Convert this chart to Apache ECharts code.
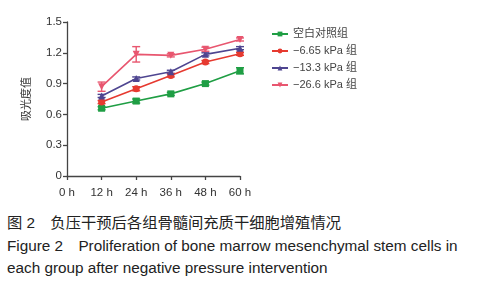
<!DOCTYPE html>
<html><head><meta charset="utf-8">
<script src="https://cdn.jsdelivr.net/npm/echarts@6/dist/echarts.min.js"></script>
<style>
html,body{margin:0;padding:0;background:#fff;}
#c{width:483px;height:200px;}
.cap{font-family:"Liberation Sans",Arial,"Noto Sans CJK SC",sans-serif;color:#222;font-size:15.3px;margin:0 0 0 7px;line-height:22.5px;white-space:nowrap;}
#cap1{margin-top:12px;}
</style></head><body>
<div id="c"></div>
<div class="cap" id="cap1">图 2　负压干预后各组骨髓间充质干细胞增殖情况</div>
<div class="cap">Figure 2　Proliferation of bone marrow mesenchymal stem cells in<br>each group after negative pressure intervention</div>
<script>
var categories = ['0 h','12 h','24 h','36 h','48 h','60 h'];
var seriesNames = ['空白对照组','−6.65 kPa 组','−13.3 kPa 组','−26.6 kPa 组'];
var blankVals = [null,0.66,0.73,0.80,0.90,1.025];
var blankErr  = [null,0.015,0.02,0.015,0.015,0.03];
var p665Vals  = [null,0.72,0.85,0.98,1.11,1.19];
var p665Err   = [null,0.015,0.02,0.015,0.015,0.015];
var p133Vals  = [null,0.78,0.95,1.015,1.185,1.245];
var p133Err   = [null,0.015,0.015,0.015,0.015,0.015];
var p266Vals  = [null,0.87,1.185,1.175,1.235,1.33];
var p266Err   = [null,0.045,0.075,0.015,0.02,0.015];
var yTicks = [0,0.3,0.6,0.9,1.2,1.5];

var colors = ['#1f9e44','#e63a30','#4e4590','#e8566f'];
var symbols = ['rect','circle','triangle','path://M0,0 L10,0 L5,10 Z'];
var vals = [blankVals,p665Vals,p133Vals,p266Vals];
var errs = [blankErr,p665Err,p133Err,p266Err];

var series = [];
seriesNames.forEach(function(n,i){
  series.push({
    name:n, type:'line', data:vals[i], symbol:symbols[i], symbolSize:7,
    lineStyle:{color:colors[i],width:1.6}, itemStyle:{color:colors[i]},
    z:3
  });
  var ed = [];
  vals[i].forEach(function(v,k){ if(v!=null) ed.push([k, v-errs[i][k], v+errs[i][k]]); });
  series.push({
    type:'custom', name:n+'_err', data:ed, z:2, silent:true,
    renderItem:function(params,api){
      var lo = api.coord([api.value(0), api.value(1)]);
      var hi = api.coord([api.value(0), api.value(2)]);
      var w = 4;
      var st = {stroke:colors[i], lineWidth:1.4};
      return {type:'group', children:[
        {type:'line', shape:{x1:lo[0],y1:lo[1],x2:hi[0],y2:hi[1]}, style:st},
        {type:'line', shape:{x1:lo[0]-w,y1:lo[1],x2:lo[0]+w,y2:lo[1]}, style:st},
        {type:'line', shape:{x1:hi[0]-w,y1:hi[1],x2:hi[0]+w,y2:hi[1]}, style:st}
      ]};
    }
  });
});

var chart = echarts.init(document.getElementById('c'));
chart.setOption({
  animation:false,
  textStyle:{fontFamily:'"Liberation Sans", Arial, "Noto Sans CJK SC", sans-serif'},
  grid:{left:67,top:22,width:173,height:154},
  legend:{
    data:seriesNames, orient:'vertical', left:266, top:23,
    itemWidth:16, itemHeight:6, itemGap:5,
    textStyle:{fontSize:11,color:'#444',lineHeight:12},
    selectedMode:false
  },
  xAxis:{
    type:'category', data:categories, boundaryGap:false,
    axisLine:{lineStyle:{color:'#444',width:1.3}},
    axisTick:{inside:false,length:4,lineStyle:{color:'#444',width:1.3}},
    axisLabel:{fontSize:11.5,color:'#333',margin:11}
  },
  yAxis:{
    type:'value', min:0, max:1.5, interval:0.3,
    name:'吸光度值', nameLocation:'middle', nameGap:35, nameRotate:90,
    nameTextStyle:{fontSize:11,color:'#333'},
    axisLine:{show:true,lineStyle:{color:'#444',width:1.3}},
    axisTick:{show:true,length:4,lineStyle:{color:'#444',width:1.3}},
    splitLine:{show:false},
    axisLabel:{fontSize:11.5,color:'#333',margin:5,
      formatter:function(v){ var t=yTicks.filter(function(x){return Math.abs(x-v)<1e-6;}); return t.length? (v===0?'0':v.toFixed(1)) : ''; }}
  },
  series:series
});
</script>
</body></html>
